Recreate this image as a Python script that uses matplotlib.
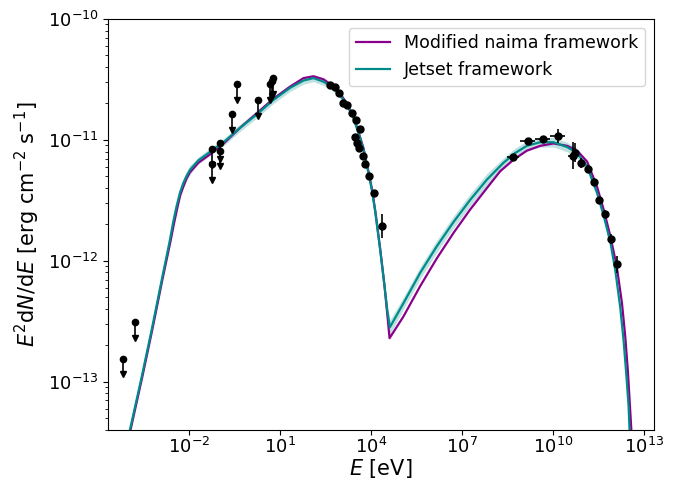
#plot_sed.py

import numpy as np
import matplotlib.pyplot as plt

# Curvas de modelo (log10 E [eV], log10 E^2 dN/dE [erg cm^-2 s^-1])

logE_jet = [-3.96, -3.57, -3.24, -2.91, -2.64, -2.53, -2.42, -2.31, -2.20, -2.09,
            -1.98, -1.84, -1.70, -1.26,
            -0.82, -0.32, 0.23, 0.78, 1.33, 1.77, 2.10, 2.43, 2.71, 2.98,
            3.20, 3.42, 3.59, 3.75, 3.92, 4.03, 4.14, 4.30, 4.44, 4.53,
            4.62, 5.07, 5.62, 6.17, 6.72, 7.26, 7.82, 8.37, 8.75, 9.14,
            9.58, 10.02, 10.47, 10.80, 11.13, 11.46, 11.68, 11.90, 12.06, 12.22,
            12.33, 12.42, 12.50, 12.53]
logF_jet = [-13.40, -12.96, -12.57, -12.16, -11.83, -11.68, -11.55, -11.44, -11.36, -11.30,
            -11.25, -11.21, -11.17, -11.09,
            -11.01, -10.90, -10.79, -10.67, -10.57, -10.51, -10.49, -10.52, -10.56, -10.63,
            -10.71, -10.82, -10.95, -11.08, -11.28, -11.42, -11.60, -11.91, -12.20, -12.40,
            -12.55, -12.35, -12.10, -11.88, -11.68, -11.50, -11.33, -11.19, -11.11, -11.05,
            -11.02, -11.02, -11.06, -11.11, -11.22, -11.44, -11.63, -11.85, -12.08, -12.38,
            -12.65, -12.93, -13.21, -13.40]
# ancho de la banda de incertidumbre (dex)
band_jet = [0.02, 0.02, 0.02, 0.02, 0.02, 0.03, 0.03, 0.04, 0.04, 0.04,
            0.04, 0.03, 0.03, 0.03,
            0.03, 0.03, 0.03, 0.03, 0.03, 0.03, 0.03, 0.03, 0.03, 0.03,
            0.03, 0.03, 0.03, 0.03, 0.03, 0.03, 0.03, 0.04, 0.04, 0.05,
            0.06, 0.05, 0.05, 0.05, 0.05, 0.05, 0.05, 0.04, 0.04, 0.04,
            0.04, 0.04, 0.04, 0.04, 0.04, 0.04, 0.04, 0.04, 0.04, 0.04,
            0.04, 0.04, 0.04, 0.04]

logE_naima = [-3.94, -3.55, -3.22, -2.89, -2.62, -2.51, -2.40, -2.30, -2.20, -2.09,
              -1.98, -1.84, -1.70, -1.26,
              -0.82, -0.32, 0.23, 0.78, 1.33, 1.77, 2.10, 2.43, 2.71, 2.98,
              3.20, 3.42, 3.59, 3.75, 3.92, 4.03, 4.14, 4.30, 4.44, 4.55,
              4.61, 5.07, 5.62, 6.17, 6.72, 7.26, 7.82, 8.26, 8.70, 9.14,
              9.58, 10.02, 10.47, 10.80, 11.13, 11.46, 11.68, 11.90, 12.11, 12.28,
              12.39, 12.48, 12.55, 12.59]
logF_naima = [-13.40, -12.96, -12.57, -12.16, -11.84, -11.70, -11.57, -11.46, -11.39, -11.32,
              -11.27, -11.23, -11.19, -11.11,
              -11.02, -10.90, -10.78, -10.66, -10.56, -10.49, -10.475, -10.50, -10.55, -10.62,
              -10.70, -10.81, -10.94, -11.07, -11.27, -11.41, -11.59, -11.90, -12.20, -12.48,
              -12.64, -12.46, -12.21, -11.98, -11.77, -11.58, -11.40, -11.26, -11.165, -11.09,
              -11.05, -11.03, -11.05, -11.09, -11.18, -11.39, -11.58, -11.80, -12.05, -12.35,
              -12.63, -12.93, -13.23, -13.40]

# Datos: limites superiores
logE_ul = [-4.20, -3.79, -1.24, -1.24, -0.97, -0.97, -0.58, -0.44, 0.27, 0.65, 0.73, 0.78]
logF_ul = [-12.81, -12.51, -11.08, -11.20, -11.03, -11.09, -10.785, -10.54, -10.67, -10.54, -10.51, -10.49]

# Datos: detecciones
logE_det = [2.65, 2.82, 2.95, 3.09, 3.22, 3.37, 3.50, 3.62, 3.48, 3.53,
            3.61, 3.72, 3.81, 3.94, 4.11, 4.35,
            8.67, 9.17, 9.66, 10.16, 10.66, 10.74, 10.93, 11.15, 11.35, 11.53,
            11.73, 11.93, 12.13]
logF_det = [-10.544, -10.56, -10.615, -10.695, -10.71, -10.78, -10.84, -10.91, -10.98, -11.03,
            -11.07, -11.13, -11.20, -11.30, -11.44, -11.71,
            -11.145, -11.01, -10.99, -10.97, -11.13, -11.105, -11.19, -11.24, -11.345, -11.50,
            -11.61, -11.82, -12.03]
yerr_det = [0.01, 0.01, 0.01, 0.01, 0.01, 0.01, 0.01, 0.01, 0.01, 0.01,
            0.01, 0.01, 0.01, 0.01, 0.01, 0.10,
            0.02, 0.02, 0.02, 0.06, 0.11, 0.08, 0.04, 0.03, 0.03, 0.03,
            0.03, 0.04, 0.07]
xerr_det = [0, 0, 0, 0, 0, 0, 0, 0, 0, 0,
            0, 0, 0, 0, 0, 0,
            0.20, 0.24, 0.24, 0.25, 0.17, 0.0, 0.0, 0.0, 0.0, 0.0,
            0.0, 0.0, 0.0]

ul_len = 0.13  # largo de la flecha (dex)

E_jet = 10**np.array(logE_jet)
F_jet = 10**np.array(logF_jet)
w = np.array(band_jet)
E_nai = 10**np.array(logE_naima)
F_nai = 10**np.array(logF_naima)

fig = plt.figure(figsize=(6.8, 4.83), dpi=100)
ax = fig.add_axes([0.159, 0.110, 0.803, 0.851])

ax.fill_between(E_jet, F_jet*10**(-w), F_jet*10**w, color='#008b8b', alpha=0.25, lw=0)
ax.plot(E_nai, F_nai, color='#8b008b', lw=1.6, label='Modified naima framework')
ax.plot(E_jet, F_jet, color='#008b8b', lw=1.6, label='Jetset framework')

# limites superiores
E_ul = 10**np.array(logE_ul)
F_ul = 10**np.array(logF_ul)
ax.errorbar(E_ul, F_ul, yerr=[F_ul*(1-10**(-ul_len)), np.zeros(len(F_ul))],
            fmt='o', color='black', ms=4.5, elinewidth=1.2, capsize=0, ls='none')
ax.plot(E_ul, F_ul*10**(-ul_len), 'v', color='black', ms=4, ls='none')

# detecciones
E_d = 10**np.array(logE_det)
F_d = 10**np.array(logF_det)
ye = np.array(yerr_det)
xe = np.array(xerr_det)
ax.errorbar(E_d, F_d,
            yerr=[F_d*(1-10**(-ye)), F_d*(10**ye-1)],
            xerr=[E_d*(1-10**(-xe)), E_d*(10**xe-1)],
            fmt='o', color='black', ms=5, elinewidth=1.2, capsize=0, ls='none')

ax.set_xscale('log')
ax.set_yscale('log')
ax.set_xlim(2.1e-5, 2.2e13)
ax.set_ylim(4e-14, 1e-10)
ax.set_xticks([1e-2, 1e1, 1e4, 1e7, 1e10, 1e13])
ax.tick_params(labelsize=13)
ax.tick_params(axis='x', pad=1.5)
ax.set_xlabel(r'$E$ [eV]', fontsize=15, labelpad=0)
ax.set_ylabel(r'$E^2\mathrm{d}N/\mathrm{d}E$ [erg cm$^{-2}$ s$^{-1}$]', fontsize=15)
ax.legend(loc='upper right', fontsize=12.5)

fig.savefig('out.png', dpi=100)
